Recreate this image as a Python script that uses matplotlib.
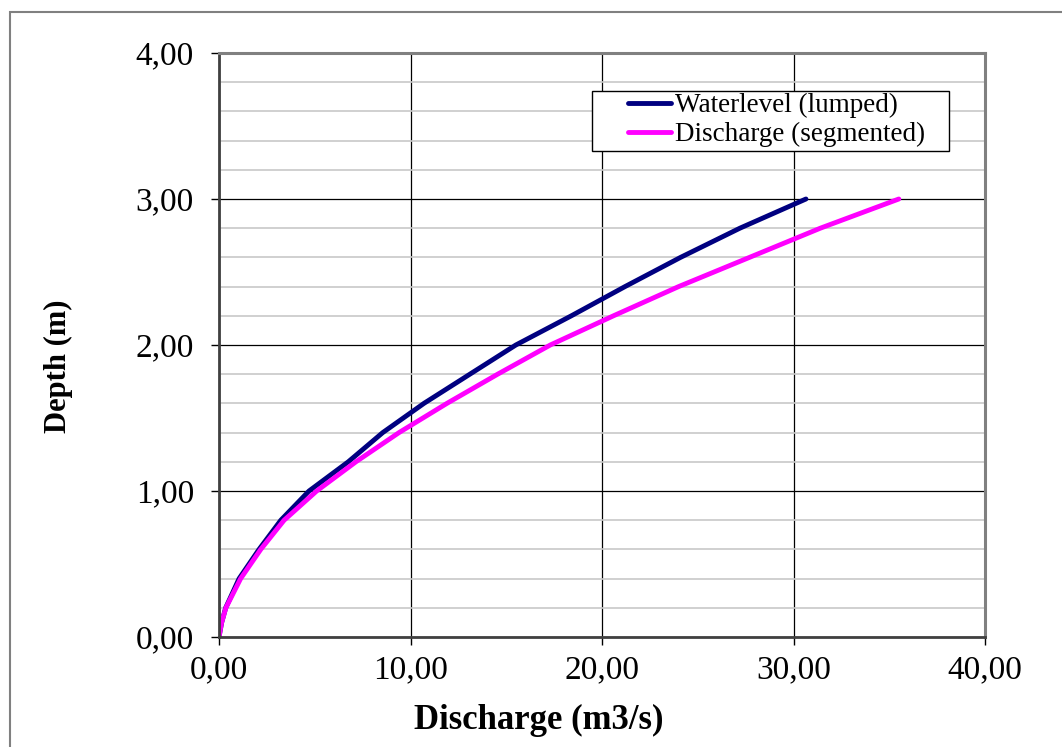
import matplotlib
matplotlib.use("Agg")
import matplotlib.pyplot as plt
from matplotlib.patches import Rectangle
from matplotlib.ticker import MultipleLocator, FuncFormatter

# depth (m) and discharge (m3/s)
depth = [0.0, 0.1, 0.2, 0.4, 0.6, 0.8, 1.0, 1.2, 1.4, 1.6, 1.8, 2.0, 2.2, 2.4, 2.6, 2.8, 3.0]
q_lumped = [0.0, 0.14, 0.35, 1.05, 2.09, 3.23, 4.7, 6.75, 8.55, 10.7, 13.1, 15.5, 18.4, 21.2, 24.1, 27.2, 30.65]
q_segmented = [0.0, 0.14, 0.36, 1.13, 2.18, 3.40, 5.1, 7.15, 9.4, 11.9, 14.55, 17.3, 20.6, 24.0, 27.7, 31.4, 35.5]

plt.rcParams['font.family'] = ['Liberation Serif', 'DejaVu Serif']

W, H = 1062, 747
fig = plt.figure(figsize=(W/100, H/100), dpi=100)
ax = fig.add_axes([219/W, 1-637/H, (985-219)/W, (637-53)/H])

def px(x, y):
    # figure pixel (from top-left) -> axes fraction
    return (x-219)/766, (637-y)/584

# outer chart frame
fig.patches.append(Rectangle((10/W, -0.05), 1.1, 1-12/H+0.05, transform=fig.transFigure,
                             fill=False, edgecolor='#808080', linewidth=1.5))

ax.plot(q_lumped, depth, color='#000080', lw=3.5, solid_capstyle='round', solid_joinstyle='round',
        label='Waterlevel (lumped)')
ax.plot(q_segmented, depth, color='#FF00FF', lw=3.5, solid_capstyle='round', solid_joinstyle='round',
        label='Discharge (segmented)')

ax.set_xlim(0, 40)
ax.set_ylim(0, 4)
ax.xaxis.set_major_locator(MultipleLocator(10))
ax.yaxis.set_major_locator(MultipleLocator(1))
ax.yaxis.set_minor_locator(MultipleLocator(0.2))
fmt = FuncFormatter(lambda v, p: ('%.2f' % v).replace('.', ','))
ax.xaxis.set_major_formatter(fmt)
ax.yaxis.set_major_formatter(fmt)

ax.grid(True, which='major', color='black', lw=0.9)
ax.grid(True, which='minor', axis='y', color='#c8c8c8', lw=1.2)
ax.set_axisbelow(True)

ax.tick_params(which='major', direction='out', length=6, width=1, labelsize=24)
ax.tick_params(axis='x', pad=7)
ax.tick_params(axis='y', pad=12)
ax.tick_params(which='minor', length=0)

for s in ['left', 'bottom']:
    ax.spines[s].set_color('#404040')
    ax.spines[s].set_linewidth(2)
for s in ['top', 'right']:
    ax.spines[s].set_color('#808080')
    ax.spines[s].set_linewidth(2.2)

ax.set_xlabel('Discharge (m3/s)', fontsize=25, fontweight='bold')
ax.set_ylabel('Depth (m)', fontsize=22, fontweight='bold')
ax.xaxis.set_label_coords(*px(539, 704))
ax.yaxis.set_label_coords(*px(73, 366))

# legend box and entries
x0, y0 = px(592, 151)
x1, y1 = px(949, 91)
ax.add_patch(Rectangle((x0, y0), x1-x0, y1-y0, transform=ax.transAxes, facecolor='white',
                       edgecolor='black', lw=1, zorder=4.5, clip_on=False))
leg = ax.legend(loc='upper left', bbox_to_anchor=px(628, 93), fontsize=19.5, frameon=False,
                handlelength=1.6, handletextpad=0.15, borderpad=0, labelspacing=0.15,
                borderaxespad=0)
leg.set_zorder(5)

fig.savefig('out.png', dpi=100)
